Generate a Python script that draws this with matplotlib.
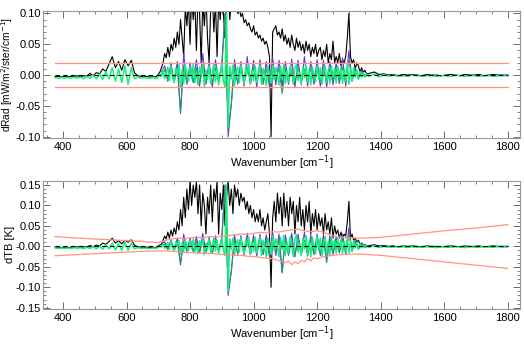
import numpy as np
import matplotlib
matplotlib.use("Agg")
import matplotlib.pyplot as plt
from matplotlib.ticker import MultipleLocator, FixedLocator, FixedFormatter

plt.rcParams['font.family'] = ['Liberation Sans', 'DejaVu Sans']
plt.rcParams['axes.unicode_minus'] = False

# wavenumber sampling grids [cm-1]
wn_lo = np.arange(375, 706, 10)      # 34
wn_mid = np.arange(710, 1361, 5)     # 131
wn_mid10 = np.arange(710, 1361, 10)  # 66
wn_hi = np.arange(1365, 1801, 15)    # 30

# ---------------- top panel: dRad ----------------
rad_black_lo = [-0.002, -0.002, -0.003, -0.002, -0.003, -0.002, -0.003, -0.001, -0.003, -0.001,
                -0.002, 0.003, -0.001, 0.004, 0.002, 0.01, 0.006, 0.018, 0.03, 0.012,
                0.022, 0.008, 0.025, 0.015, 0.024, 0.004, -0.001, -0.002, -0.003, -0.002,
                -0.003, -0.003, -0.002, 0.005]
rad_black_mid = [0.012, 0.02, 0.035, 0.028, 0.045, 0.03, 0.05, 0.04, 0.06, 0.045,
                 0.07, 0.05, 0.09, 0.06, 0.03, 0.11, 0.08, 0.12, 0.05, 0.13,
                 0.09, 0.12, 0.04, 0.13, 0.10, 0.02, 0.12, 0.08, 0.13, 0.06,
                 0.02, 0.11, 0.13, 0.07, 0.12, 0.03, 0.12, 0.09, 0.13, 0.10,
                 0.06, 0.12, 0.14, 0.09, 0.12, 0.13, 0.11, 0.12, 0.10, 0.11,
                 0.095, 0.10, 0.085, 0.09, 0.08, 0.085, 0.075, 0.07, 0.08, 0.065,
                 0.07, 0.06, 0.065, 0.055, 0.06, 0.05, 0.055, 0.045, 0.03, -0.10,
                 0.07, 0.075, 0.08, 0.065, 0.07, 0.06, 0.075, 0.055, 0.065, 0.05,
                 0.06, 0.045, 0.065, 0.05, 0.04, 0.06, 0.045, 0.055, 0.04, 0.05,
                 0.035, 0.055, 0.04, 0.05, 0.03, 0.045, 0.035, 0.05, 0.03, 0.04,
                 0.045, 0.025, 0.04, 0.03, 0.05, 0.02, 0.035, 0.025, 0.055, 0.02,
                 0.03, 0.02, 0.035, 0.015, 0.025, 0.02, 0.03, 0.06, 0.10, 0.03,
                 0.02, 0.025, 0.01, 0.02, 0.015, 0.005, 0.012, 0.004, 0.008, 0.003,
                 0.002]
rad_black_hi = [0.003, 0.005, 0.001, 0.002, 0.0, 0.001, -0.001, 0.001, 0.0, 0.001,
                0.0, -0.001, 0.001, 0.0, 0.0, -0.001, 0.0, 0.001, 0.0, -0.001,
                0.001, 0.0, 0.0, 0.001, -0.001, 0.0, 0.001, 0.0, 0.0, 0.0]

rad_green_lo = [-0.004, -0.005, -0.004, -0.005, -0.004, -0.005, -0.003, -0.005, -0.003, -0.006,
                -0.002, -0.005, 0.0, -0.006, 0.002, -0.007, 0.005, -0.006, 0.012, -0.01,
                0.01, -0.012, 0.015, -0.015, 0.012, -0.006, -0.003, -0.005, -0.004, -0.005,
                -0.005, -0.004, -0.006, 0.002]
rad_green_mid = [-0.003, 0.008, -0.006, 0.004, 0.013, -0.009, 0.015, -0.004, -0.012, 0.011,
                 0.002, 0.017, -0.02, 0.009, -0.014, 0.016, 0.003, -0.01, 0.014, -0.006,
                 0.018, -0.012, 0.006, -0.016, 0.013, 0.001, 0.017, -0.019, 0.008, -0.007,
                 0.015, -0.014, 0.004, 0.018, -0.011, 0.012, -0.016, 0.002, 0.017, -0.009,
                 -0.02, 0.10, -0.085, 0.014, -0.006, 0.016, -0.017, 0.005, 0.013, -0.012,
                 0.016, -0.004, -0.014, 0.012, 0.002, 0.017, -0.015, 0.008, -0.009, 0.015,
                 -0.012, 0.006, 0.016, -0.015, 0.011, -0.003, -0.017, 0.014, 0.001, -0.013,
                 0.016, -0.008, 0.012, 0.003, -0.016, 0.014, -0.006, 0.017, -0.014, 0.007,
                 -0.011, 0.015, 0.002, -0.015, 0.012, 0.017, -0.009, 0.004, -0.014, 0.013,
                 -0.004, 0.016, -0.012, 0.009, -0.016, 0.014, 0.001, -0.011, 0.015, -0.007,
                 0.012, -0.015, 0.005, 0.016, -0.012, 0.008, -0.014, 0.015, -0.003, 0.011,
                 -0.013, 0.014, -0.004, 0.012, -0.014, 0.009, -0.01, 0.02, -0.015, 0.01,
                 -0.01, 0.012, -0.003, 0.009, -0.007, 0.006, -0.004, 0.004, -0.002, 0.002,
                 -0.001]
rad_green_hi = [-0.002, 0.002, -0.003, 0.001, -0.002, 0.0, -0.002, -0.001, -0.002, 0.0,
                -0.001, -0.002, -0.001, -0.001, -0.002, -0.001, -0.001, -0.002, 0.0, -0.001,
                -0.002, -0.001, -0.001, -0.002, -0.001, -0.001, -0.002, -0.001, -0.001, -0.001]

rad_purple = [0.005, 0.015, -0.01, 0.02, -0.012, 0.022, -0.062, 0.035, -0.015, 0.02,
              -0.012, 0.025, -0.018, 0.035, -0.015, 0.022, -0.02, 0.025, -0.012, 0.02,
              0.10, -0.10, -0.045, 0.025, -0.015, 0.022, -0.018, 0.03, -0.015, 0.024,
              -0.02, 0.025, -0.015, 0.022, -0.02, 0.028, -0.016, 0.024, -0.018, 0.022,
              -0.015, 0.026, -0.02, 0.024, -0.016, 0.03, -0.018, 0.022, -0.015, 0.025,
              -0.018, 0.024, -0.02, 0.022, -0.016, 0.02, -0.014, 0.028, -0.018, 0.04,
              -0.01, 0.012, -0.006, 0.008, -0.003, 0.002]
rad_teal = [0.0, 0.008, -0.008, 0.01, -0.01, 0.012, -0.06, 0.014, -0.012, 0.01,
            -0.011, 0.012, -0.014, 0.011, -0.012, 0.013, -0.013, 0.012, -0.011, 0.01,
            0.10, -0.09, -0.047, 0.012, -0.012, 0.011, -0.011, 0.013, -0.012, 0.012,
            -0.011, 0.011, -0.012, 0.01, -0.013, 0.012, -0.01, 0.011, -0.03, 0.011,
            -0.011, 0.01, -0.012, 0.012, -0.01, 0.01, -0.012, 0.011, -0.011, 0.01,
            -0.012, 0.011, -0.01, 0.01, -0.011, 0.01, -0.01, 0.013, -0.012, 0.025,
            -0.008, 0.008, -0.005, 0.005, -0.003, 0.001]

rad_noise_wn = [375, 1800]
rad_noise_hi = [0.02, 0.02]
rad_noise_lo = [-0.02, -0.02]

# ---------------- bottom panel: dTB ----------------
tb_black_lo = [-0.002, -0.002, -0.003, -0.002, -0.003, -0.002, -0.003, -0.001, -0.003, -0.001,
               -0.002, 0.002, -0.001, 0.003, 0.001, 0.008, 0.005, 0.012, 0.02, 0.008,
               0.014, 0.006, 0.015, 0.01, 0.016, 0.003, -0.001, -0.002, -0.003, -0.002,
               -0.003, -0.003, -0.002, 0.004]
tb_black_mid = [0.005, 0.015, 0.025, 0.018, 0.035, 0.02, 0.04, 0.025, 0.045, 0.03,
                0.06, 0.04, 0.09, 0.05, 0.12, 0.07, 0.14, 0.09, 0.16, 0.10,
                0.15, 0.12, 0.16, 0.08, 0.15, 0.05, 0.13, 0.10, 0.03, 0.12,
                0.08, 0.15, 0.06, 0.14, 0.11, 0.16, 0.03, 0.13, 0.09, 0.15,
                0.05, 0.12, 0.16, 0.10, 0.14, 0.08, 0.15, 0.12, 0.14, 0.10,
                0.13, 0.11, 0.12, 0.09, 0.11, 0.08, 0.10, 0.07, 0.09, 0.06,
                0.08, 0.06, 0.09, 0.05, 0.07, 0.04, 0.06, 0.08, 0.03, -0.10,
                0.07, 0.11, 0.06, 0.13, 0.08, 0.12, 0.05, 0.13, 0.07, 0.11,
                0.05, 0.12, 0.08, 0.11, 0.03, 0.10, 0.06, 0.12, 0.05, 0.09,
                0.04, 0.10, 0.06, 0.11, 0.03, 0.08, 0.05, 0.09, 0.04, 0.08,
                0.05, 0.07, 0.03, 0.08, 0.04, 0.06, 0.03, 0.07, 0.02, 0.05,
                0.03, 0.04, 0.02, 0.035, 0.02, 0.03, 0.025, 0.06, 0.11, 0.02,
                0.03, 0.015, 0.02, 0.01, 0.015, 0.005, 0.008, 0.003, 0.004, 0.002,
                0.001]
tb_black_hi = [0.002, 0.004, 0.001, 0.002, 0.0, 0.001, -0.001, 0.001, 0.0, 0.001,
               0.0, -0.001, 0.001, 0.0, 0.0, -0.001, 0.0, 0.001, 0.0, -0.001,
               0.001, 0.0, 0.0, 0.001, -0.001, 0.0, 0.001, 0.0, 0.0, 0.0]

tb_green_lo = [-0.004, -0.005, -0.004, -0.005, -0.004, -0.005, -0.003, -0.005, -0.003, -0.006,
               -0.002, -0.005, 0.0, -0.006, 0.001, -0.007, 0.004, -0.006, 0.008, -0.009,
               0.006, -0.01, 0.01, -0.01, 0.008, -0.006, -0.003, -0.005, -0.004, -0.005,
               -0.005, -0.004, -0.005, 0.001]
tb_green_mid = [-0.002, 0.006, -0.005, 0.003, 0.01, -0.007, 0.012, -0.004, -0.01, 0.011,
                0.001, 0.015, -0.02, 0.008, -0.013, 0.016, 0.002, -0.011, 0.015, -0.006,
                0.018, -0.013, 0.005, -0.017, 0.014, 0.002, 0.019, -0.02, 0.008, -0.008,
                0.017, -0.016, 0.004, 0.02, -0.012, 0.014, -0.018, 0.003, 0.019, -0.01,
                -0.022, 0.15, -0.11, 0.018, -0.007, 0.02, -0.02, 0.005, 0.016, -0.014,
                0.021, -0.005, -0.018, 0.016, 0.002, 0.023, -0.02, 0.01, -0.012, 0.022,
                -0.016, 0.008, 0.024, -0.022, 0.015, -0.004, -0.026, 0.02, 0.002, -0.02,
                0.025, -0.01, 0.018, 0.004, -0.026, 0.022, -0.008, 0.027, -0.022, 0.01,
                -0.017, 0.024, 0.003, -0.025, 0.018, 0.028, -0.014, 0.006, -0.023, 0.02,
                -0.006, 0.026, -0.02, 0.012, -0.026, 0.023, 0.002, -0.018, 0.025, -0.01,
                0.02, -0.024, 0.007, 0.025, -0.019, 0.012, -0.022, 0.023, -0.005, 0.016,
                -0.017, 0.019, -0.005, 0.016, -0.017, 0.012, -0.013, 0.024, -0.016, 0.012,
                -0.012, 0.014, -0.004, 0.011, -0.008, 0.007, -0.004, 0.004, -0.002, 0.002,
                -0.001]
tb_green_hi = [-0.002, 0.002, -0.003, 0.0, -0.002, -0.001, -0.002, -0.001, -0.003, -0.001,
               -0.002, -0.002, -0.001, -0.002, -0.003, -0.001, -0.002, -0.002, -0.001, -0.002,
               -0.003, -0.001, -0.002, -0.002, -0.001, -0.002, -0.002, -0.001, -0.002, -0.001]

tb_purple = [0.004, 0.012, -0.008, 0.016, -0.01, 0.02, -0.045, 0.03, -0.012, 0.02,
             -0.012, 0.024, -0.016, 0.032, -0.014, 0.022, -0.018, 0.026, -0.015, 0.024,
             0.15, -0.12, -0.06, 0.028, -0.02, 0.026, -0.022, 0.032, -0.02, 0.028,
             -0.024, 0.03, -0.02, 0.028, -0.026, 0.034, -0.022, 0.03, -0.065, 0.028,
             -0.022, 0.032, -0.026, 0.03, -0.02, 0.035, -0.024, 0.028, -0.02, 0.03,
             -0.022, 0.028, -0.03, 0.026, -0.02, 0.024, -0.016, 0.03, -0.02, 0.045,
             -0.012, 0.014, -0.007, 0.008, -0.003, 0.002]
tb_teal = [0.0, 0.006, -0.008, 0.008, -0.01, 0.01, -0.042, 0.012, -0.012, 0.01,
           -0.012, 0.013, -0.015, 0.012, -0.014, 0.014, -0.015, 0.013, -0.013, 0.012,
           0.15, -0.11, -0.06, 0.015, -0.016, 0.014, -0.016, 0.015, -0.018, 0.016,
           -0.017, 0.016, -0.02, 0.015, -0.02, 0.018, -0.016, 0.016, -0.063, 0.016,
           -0.018, 0.015, -0.021, 0.016, -0.018, 0.015, -0.02, 0.016, -0.018, 0.015,
           -0.017, 0.016, -0.04, 0.015, -0.017, 0.013, -0.014, 0.018, -0.015, 0.03,
           -0.01, 0.008, -0.005, 0.005, -0.003, 0.001]

tb_noise_wn_hi = [375, 450, 500, 550, 600, 650, 700, 720, 740, 760, 780, 800, 820, 840, 860,
                  880, 900, 920, 940, 960, 980, 1000, 1020, 1040, 1060, 1080, 1100, 1120, 1140,
                  1160, 1180, 1200, 1220, 1240, 1260, 1280, 1300, 1340, 1400, 1500, 1600, 1700, 1800]
tb_noise_hi = [0.024, 0.02, 0.018, 0.016, 0.014, 0.012, 0.009, 0.014, 0.018, 0.02, 0.019, 0.021,
               0.022, 0.021, 0.024, 0.023, 0.025, 0.026, 0.028, 0.03, 0.029, 0.032, 0.034, 0.033,
               0.036, 0.035, 0.038, 0.04, 0.042, 0.038, 0.036, 0.038, 0.035, 0.028, 0.024, 0.022,
               0.021, 0.02, 0.022, 0.03, 0.038, 0.045, 0.053]
tb_noise_wn_lo = [375, 450, 500, 550, 600, 650, 700, 720, 740, 760, 780, 800, 820, 840, 860,
                  880, 900, 920, 940, 960, 980, 1000, 1020, 1040, 1060, 1080, 1100, 1110, 1120,
                  1130, 1140, 1150, 1160, 1170, 1180, 1190, 1200, 1220, 1240, 1260, 1300, 1340,
                  1400, 1500, 1600, 1700, 1800]
tb_noise_lo = [-0.023, -0.02, -0.018, -0.016, -0.014, -0.012, -0.011, -0.011, -0.012, -0.013,
               -0.015, -0.015, -0.016, -0.017, -0.017, -0.018, -0.02, -0.019, -0.022, -0.022,
               -0.024, -0.025, -0.027, -0.029, -0.03, -0.035, -0.04, -0.036, -0.045, -0.038,
               -0.042, -0.034, -0.038, -0.03, -0.035, -0.028, -0.03, -0.025, -0.023, -0.021,
               -0.019, -0.019, -0.022, -0.03, -0.038, -0.046, -0.054]

zero_wn = [375, 1800]

c_purple = '#6a34e0'
c_teal = '#2f9272'
c_green = '#14f07a'
c_red = '#ff9484'


def draw_panel(ax, blk, grn, pur, tea, nwn_hi, nhi, nwn_lo, nlo):
    wn_full = np.concatenate([wn_lo, wn_mid, wn_hi])
    ax.plot(wn_full, blk, color='black', lw=0.8)
    ax.plot(wn_mid10, pur, color=c_purple, lw=0.8)
    ax.plot(wn_mid10, tea, color=c_teal, lw=0.8)
    ax.plot(wn_full, grn, color=c_green, lw=1.1)
    ax.plot(nwn_hi, nhi, color=c_red, lw=0.9)
    ax.plot(nwn_lo, nlo, color=c_red, lw=0.9)
    ax.plot(zero_wn, [0, 0], color='black', lw=0.8, ls=(0, (4, 3)))
    ax.set_xlim(337, 1838)
    ax.xaxis.set_major_locator(MultipleLocator(200))
    ax.xaxis.set_minor_locator(MultipleLocator(50))
    ax.yaxis.set_minor_locator(MultipleLocator(0.01))
    ax.tick_params(which='both', direction='in', top=True, right=True,
                   labelsize=8, color='#555555')
    ax.tick_params(axis='y', pad=1.5)
    ax.tick_params(axis='x', pad=3)
    ax.tick_params(which='major', length=5, width=0.6)
    ax.tick_params(which='minor', length=2.5, width=0.5)
    for s in ax.spines.values():
        s.set_color('#999999')
        s.set_linewidth(0.8)
    ax.set_xlabel('Wavenumber [cm$^{-1}$]', fontsize=8, labelpad=1)


fig = plt.figure(figsize=(5.24, 3.44), dpi=100)
ax1 = fig.add_axes([0.082, 0.599, 0.910, 0.369])
ax2 = fig.add_axes([0.082, 0.102, 0.910, 0.372])

draw_panel(ax1,
           rad_black_lo + rad_black_mid + rad_black_hi,
           rad_green_lo + rad_green_mid + rad_green_hi,
           rad_purple, rad_teal,
           rad_noise_wn, rad_noise_hi, rad_noise_wn, rad_noise_lo)
ax1.set_ylim(-0.102, 0.104)
ax1.yaxis.set_major_locator(FixedLocator([-0.10, -0.05, 0.0, 0.05, 0.10]))
ax1.yaxis.set_major_formatter(FixedFormatter(['-0.10', '-0.05', '0.00', '0.05', '0.10']))
ax1.set_ylabel('dRad [mW/m$^2$/ster/cm$^{-1}$]', fontsize=7.3)
ax1.yaxis.set_label_coords(-0.058, 0.5)

draw_panel(ax2,
           tb_black_lo + tb_black_mid + tb_black_hi,
           tb_green_lo + tb_green_mid + tb_green_hi,
           tb_purple, tb_teal,
           tb_noise_wn_hi, tb_noise_hi, tb_noise_wn_lo, tb_noise_lo)
ax2.set_ylim(-0.153, 0.16)
ax2.yaxis.set_major_locator(FixedLocator([-0.15, -0.10, -0.05, 0.0, 0.05, 0.10, 0.15]))
ax2.yaxis.set_major_formatter(FixedFormatter(['-0.15', '-0.10', '-0.05', '-0.00', '0.05', '0.10', '0.15']))
ax2.set_ylabel('dTB [K]', fontsize=8)
ax2.yaxis.set_label_coords(-0.058, 0.5)

fig.savefig('out.png', dpi=100)
